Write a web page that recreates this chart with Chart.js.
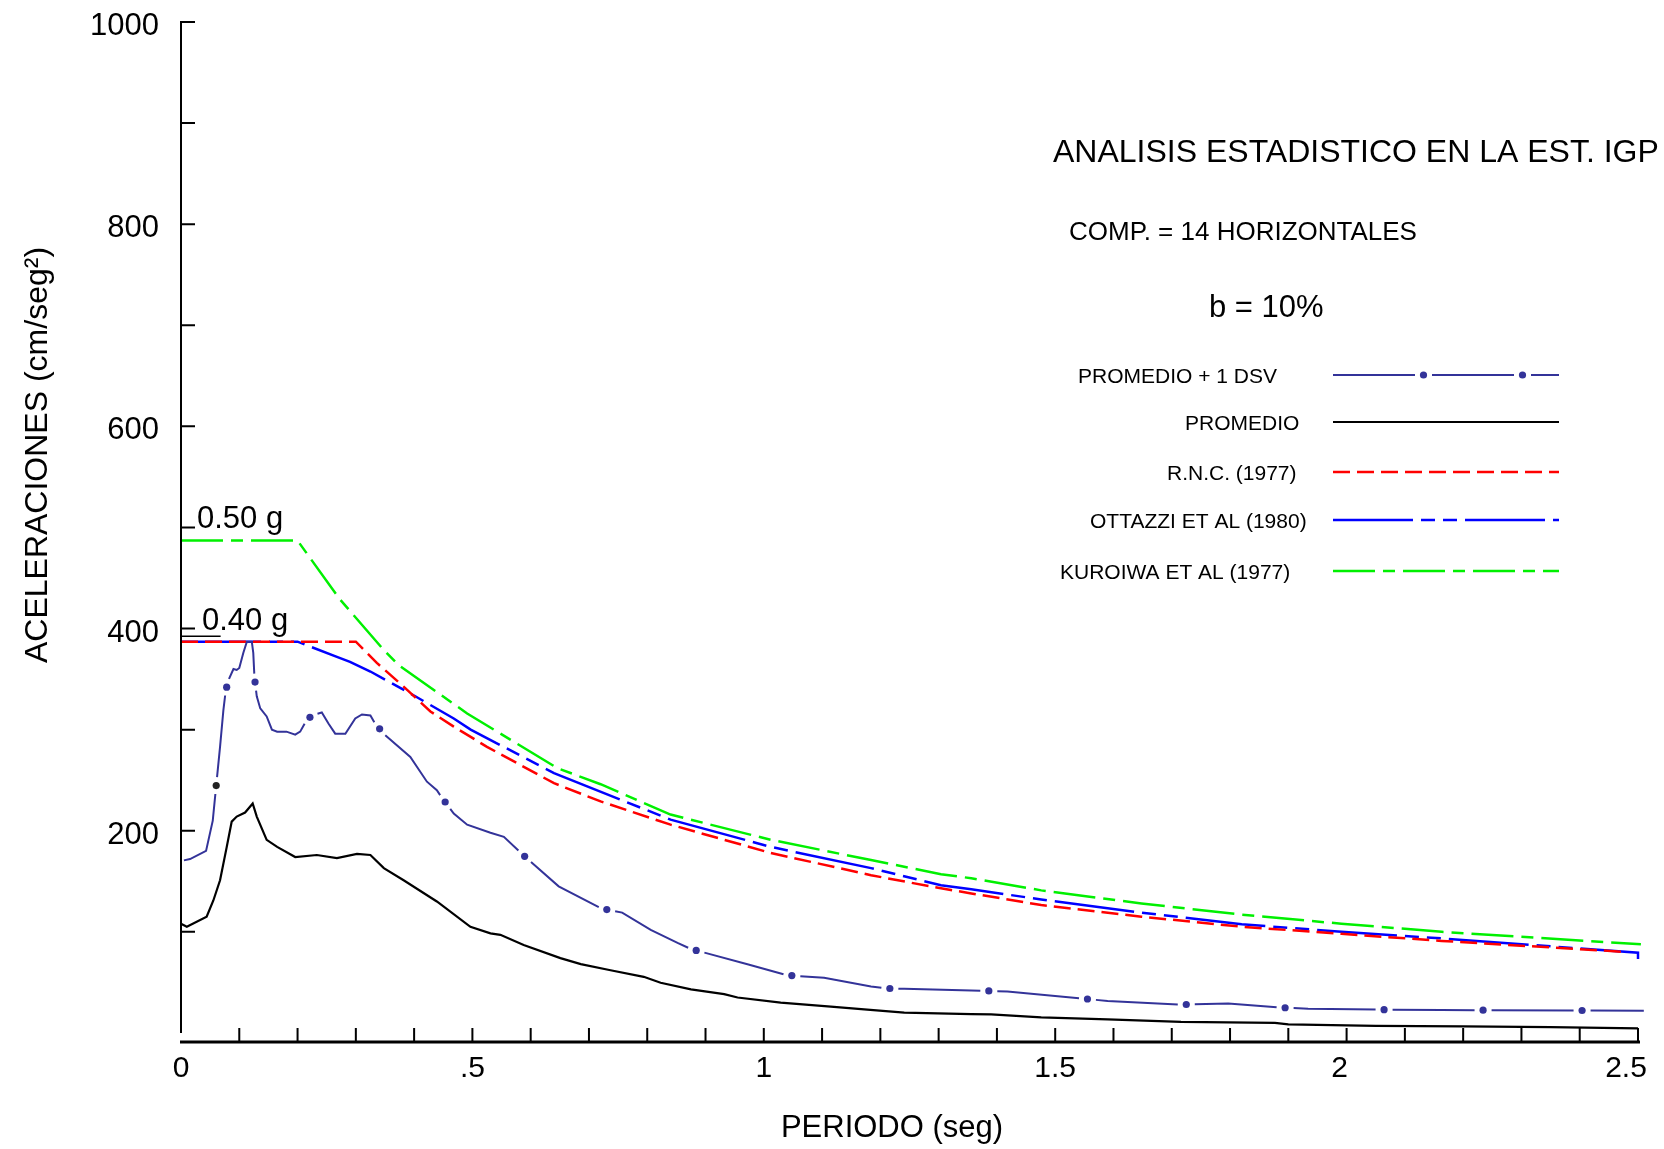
<!DOCTYPE html>
<html>
<head>
<meta charset="utf-8">
<title>Analisis estadistico - Est. IGP</title>
<script src="https://cdn.jsdelivr.net/npm/chart.js@4.4.1/dist/chart.umd.min.js"></script>
<style>
  html, body { margin: 0; padding: 0; background: #fff; }
  #wrap { width: 1664px; height: 1149px; }
</style>
</head>
<body>
<div id="wrap"><canvas id="espectro" width="1664" height="1149"></canvas></div>
<script>
'use strict';

// PROMEDIO + 1 DSV  (periodo en seg, aceleracion en cm/seg2)
let dsvPeriodos = [0, 0.0155, 0.043, 0.0545, 0.0613, 0.067, 0.0727, 0.0768, 0.083, 0.09, 0.0956, 0.1, 0.107, 0.113, 0.1215, 0.124, 0.126, 0.13, 0.136, 0.147, 0.156, 0.165, 0.181, 0.196, 0.2045, 0.216, 0.227, 0.2416, 0.253, 0.2646, 0.282, 0.299, 0.3105, 0.325, 0.332, 0.3476, 0.3935, 0.422, 0.439, 0.446, 0.468, 0.491, 0.531, 0.554, 0.585, 0.648, 0.7216, 0.757, 0.806, 0.852, 0.875, 0.972, 1.04, 1.1035, 1.184, 1.21, 1.241, 1.356, 1.418, 1.547, 1.59, 1.718, 1.797, 1.888, 1.934, 2.057, 2.163, 2.51];
let dsvValores = [170, 172, 180, 210, 250, 283, 319, 339, 351, 360, 359, 361, 376, 387, 387, 376, 352, 333, 321, 313, 300, 298, 298, 295, 298, 310, 314.5, 317, 306, 296, 296, 311, 315, 314, 307, 296, 273, 248.5, 240, 234, 217, 206, 198, 194, 177, 145, 123, 119, 102, 89, 83, 68, 57, 54.5, 46, 44, 43.6, 42, 41, 34, 31.5, 28, 29, 25, 24, 23, 22.6, 22];

// PROMEDIO
let promPeriodos = [0, 0.01, 0.044, 0.0555, 0.067, 0.0785, 0.087, 0.0956, 0.11, 0.123, 0.13, 0.147, 0.165, 0.196, 0.233, 0.2675, 0.302, 0.325, 0.348, 0.382, 0.439, 0.4966, 0.531, 0.548, 0.588, 0.651, 0.686, 0.737, 0.794, 0.823, 0.875, 0.932, 0.955, 1.029, 1.115, 1.167, 1.241, 1.356, 1.39, 1.476, 1.59, 1.716, 1.877, 1.9, 2.05, 2.2, 2.35, 2.5];
let promValores = [108, 105, 115, 131, 151, 184, 209, 214, 218, 227, 214, 191, 184, 174, 176, 173, 177, 176, 163, 151, 130, 105, 98.5, 97, 87, 74, 68, 62, 55.5, 49.6, 43, 38.4, 35, 30, 26, 23.6, 20, 18.6, 18.3, 15.3, 13.4, 11, 10, 8.4, 7, 6.5, 5.8, 4.5];

// R.N.C. (1977)
let rncPeriodos = [0, 0.3, 0.336, 0.382, 0.428, 0.468, 0.525, 0.64, 0.72, 0.84, 1.012, 1.184, 1.304, 1.356, 1.476, 1.648, 1.82, 1.991, 2.163, 2.482];
let rncValores = [387, 387, 366, 342.5, 318, 303, 283, 247, 229, 206, 178, 156, 143, 138, 126.5, 115, 105, 98, 91, 80];

// OTTAZZI ET AL (1980)
let ottPeriodos = [0, 0.2, 0.2675, 0.29, 0.325, 0.402, 0.468, 0.497, 0.64, 0.84, 1.012, 1.184, 1.304, 1.356, 1.476, 1.648, 1.82, 1.991, 2.163, 2.5, 2.5];
let ottValores = [387, 387, 372, 367, 357.5, 333, 311, 300, 257, 211, 184, 163, 146, 142, 132, 119, 107.5, 100, 93.5, 79.3, 73];

// KUROIWA ET AL (1977)
let kurPeriodos = [0, 0.2, 0.2725, 0.3476, 0.373, 0.491, 0.6455, 0.72, 0.84, 1.012, 1.184, 1.304, 1.356, 1.476, 1.648, 1.82, 1.991, 2.163, 2.505];
let kurValores = [487, 487, 429, 379, 364, 316, 262, 246, 216, 191, 171, 157, 153, 141, 128, 117, 108, 100, 87.6];

// marcas y etiquetas de los ejes
let xMarcas = [0.1, 0.2, 0.3, 0.4, 0.5, 0.6, 0.7, 0.8, 0.9, 1, 1.1, 1.2, 1.3, 1.4, 1.5, 1.6, 1.7, 1.8, 1.9, 2, 2.1, 2.2, 2.3, 2.4, 2.5];
let xEtiquetaValores = [0, 0.5, 1, 1.5, 2, 2.5];
let xEtiquetas = ['0', '.5', '1', '1.5', '2', '2.5'];
let yMarcas = [100, 200, 300, 400, 500, 600, 700, 800, 900, 1000];
let yEtiquetaValores = [200, 400, 600, 800, 1000];
let yEtiquetas = ['200', '400', '600', '800', '1000'];
let marcasG = ['0.50 g', '0.40 g'];
let marcasGValores = [500, 400];

let leyenda = ['PROMEDIO + 1 DSV', 'PROMEDIO', 'R.N.C. (1977)', 'OTTAZZI ET AL (1980)', 'KUROIWA ET AL (1977)'];

const FUENTE = '"Liberation Sans", Arial, Helvetica, sans-serif';
const AZUL_DSV = '#333399';
const VERDE = '#00f000';
const DASH_DSV = [82, 17];
const DASH_RNC = [17, 7];
const DASH_OTT = [80, 8, 14, 8, 14, 8];
const DASH_KUR = [42, 8, 12, 8];
const OFFSET_DSV = -3;

function pares(periodos, valores) {
    return periodos.map((t, i) => ({ x: t, y: valores[i] }));
}

// puntos en el centro de cada hueco del trazo de la curva + 1 DSV
function marcarPuntos(ctx, pts, dash, offset, radio, primeroOscuro) {
    const periodo = dash[0] + dash[1];
    let siguiente = dash[0] + dash[1] / 2 - offset;
    while (siguiente < 0) siguiente += periodo;
    let acum = 0;
    let n = 0;
    for (let i = 1; i < pts.length; i++) {
        const dx = pts[i].x - pts[i - 1].x;
        const dy = pts[i].y - pts[i - 1].y;
        const len = Math.hypot(dx, dy);
        while (len > 0 && siguiente <= acum + len) {
            const f = (siguiente - acum) / len;
            ctx.fillStyle = (n === 0 && primeroOscuro) ? '#222' : AZUL_DSV;
            ctx.beginPath();
            ctx.arc(pts[i - 1].x + dx * f, pts[i - 1].y + dy * f, radio, 0, Math.PI * 2);
            ctx.fill();
            siguiente += periodo;
            n++;
        }
        acum += len;
    }
}

const decoracion = {
    id: 'decoracion',
    afterDatasetsDraw(chart) {
        const ctx = chart.ctx;
        const xs = chart.scales.x;
        const ys = chart.scales.y;
        const x0 = xs.getPixelForValue(0);
        const yb = chart.chartArea.bottom;

        ctx.save();

        // puntos de la curva + 1 DSV
        const meta = chart.getDatasetMeta(0);
        marcarPuntos(ctx, meta.data.map(p => ({ x: p.x, y: p.y })), DASH_DSV, OFFSET_DSV, 3.6, true);

        ctx.strokeStyle = '#000';
        ctx.lineCap = 'butt';

        // eje vertical con marcas hacia adentro
        ctx.lineWidth = 2;
        ctx.beginPath();
        ctx.moveTo(x0, ys.getPixelForValue(1000) - 1);
        ctx.lineTo(x0, ys.getPixelForValue(0));
        yMarcas.forEach(v => {
            const y = ys.getPixelForValue(v);
            ctx.moveTo(x0, y);
            ctx.lineTo(x0 + 14, y);
        });
        ctx.stroke();

        // eje horizontal con marcas hacia arriba
        ctx.lineWidth = 3;
        ctx.beginPath();
        ctx.moveTo(x0 - 1, yb);
        ctx.lineTo(xs.getPixelForValue(2.5) + 2, yb);
        ctx.stroke();
        ctx.lineWidth = 2;
        ctx.beginPath();
        xMarcas.forEach(v => {
            const x = xs.getPixelForValue(v);
            ctx.moveTo(x, yb);
            ctx.lineTo(x, yb - 14);
        });
        ctx.stroke();

        // referencia 0.40 g
        ctx.lineWidth = 1.5;
        ctx.beginPath();
        const yg = ys.getPixelForValue(0.40 * 981);
        ctx.moveTo(x0, yg);
        ctx.lineTo(xs.getPixelForValue(0.068), yg);
        ctx.stroke();

        // etiquetas de los ejes
        ctx.fillStyle = '#000';
        ctx.textBaseline = 'alphabetic';
        ctx.font = '31px ' + FUENTE;
        ctx.textAlign = 'right';
        yEtiquetaValores.forEach((v, i) => {
            ctx.fillText(yEtiquetas[i], x0 - 22, ys.getPixelForValue(v) + 13);
        });
        ctx.font = '30px ' + FUENTE;
        ctx.textAlign = 'center';
        xEtiquetaValores.forEach((v, i) => {
            // las dos ultimas etiquetas quedan un poco corridas a la izquierda
            const corr = v >= 2.5 ? -12 : (v >= 2 ? -7 : 0);
            ctx.fillText(xEtiquetas[i], xs.getPixelForValue(v) + corr, 1077);
        });

        ctx.textAlign = 'left';
        ctx.font = '31px ' + FUENTE;
        ctx.fillText(marcasG[0], x0 + 16, ys.getPixelForValue(marcasGValores[0]) + 1);
        ctx.fillText(marcasG[1], x0 + 21, ys.getPixelForValue(marcasGValores[1]) + 1);

        // titulos
        ctx.font = '32px ' + FUENTE;
        ctx.fillText('ANALISIS ESTADISTICO EN LA EST. IGP', 1053, 162);
        ctx.font = '26px ' + FUENTE;
        ctx.fillText('COMP. = 14 HORIZONTALES', 1069, 240);
        ctx.font = '31px ' + FUENTE;
        ctx.fillText('b = 10%', 1209, 317);

        ctx.textAlign = 'center';
        ctx.font = '31px ' + FUENTE;
        ctx.fillText('PERIODO (seg)', 892, 1137);

        ctx.save();
        ctx.translate(47, 455);
        ctx.rotate(-Math.PI / 2);
        ctx.font = '32px ' + FUENTE;
        ctx.fillText('ACELERACIONES (cm/seg\u00B2)', 0, 0);
        ctx.restore();

        // leyenda
        const filas = [375, 422, 472, 520, 571];
        const xTexto = [1078, 1185, 1167, 1090, 1060];
        const estilos = [
            { color: AZUL_DSV, dash: DASH_DSV, w: 2 },
            { color: '#000', dash: [], w: 2 },
            { color: '#ff0000', dash: DASH_RNC, w: 2.5 },
            { color: '#0000ff', dash: DASH_OTT, w: 2.5 },
            { color: VERDE, dash: DASH_KUR, w: 2.5 }
        ];
        ctx.textAlign = 'left';
        ctx.font = '21px ' + FUENTE;
        for (let i = 0; i < leyenda.length; i++) {
            ctx.fillStyle = '#000';
            ctx.fillText(leyenda[i], xTexto[i], filas[i] + 7.5);
            ctx.strokeStyle = estilos[i].color;
            ctx.lineWidth = estilos[i].w;
            ctx.setLineDash(estilos[i].dash);
            ctx.lineDashOffset = 0;
            ctx.beginPath();
            ctx.moveTo(1333, filas[i]);
            ctx.lineTo(1559, filas[i]);
            ctx.stroke();
        }
        ctx.setLineDash([]);
        marcarPuntos(ctx, [{ x: 1333, y: filas[0] }, { x: 1559, y: filas[0] }], DASH_DSV, 0, 3.6, false);

        ctx.restore();
    }
};

const ctx = document.getElementById('espectro').getContext('2d');
const chart = new Chart(ctx, {
    type: 'line',
    data: {
        datasets: [{
            label: leyenda[0],
            data: pares(dsvPeriodos, dsvValores),
            borderColor: AZUL_DSV,
            borderWidth: 2,
            borderDash: DASH_DSV,
            borderDashOffset: OFFSET_DSV,
            clip: false
        }, {
            label: leyenda[1],
            data: pares(promPeriodos, promValores),
            borderColor: '#000',
            borderWidth: 2.2,
            clip: false
        }, {
            label: leyenda[2],
            data: pares(rncPeriodos, rncValores),
            borderColor: '#ff0000',
            borderWidth: 2.5,
            borderDash: DASH_RNC,
            clip: false
        }, {
            label: leyenda[3],
            data: pares(ottPeriodos, ottValores),
            borderColor: '#0000ff',
            borderWidth: 2.5,
            borderDash: DASH_OTT,
            clip: false
        }, {
            label: leyenda[4],
            data: pares(kurPeriodos, kurValores),
            borderColor: VERDE,
            borderWidth: 2.5,
            borderDash: DASH_KUR,
            clip: false
        }]
    },
    options: {
        responsive: false,
        animation: false,
        devicePixelRatio: 1,
        layout: { padding: { top: 22, right: 26, left: 181, bottom: 107 } },
        elements: {
            point: { radius: 0, hoverRadius: 0 },
            line: { tension: 0, fill: false }
        },
        plugins: {
            legend: { display: false },
            tooltip: { enabled: false }
        },
        scales: {
            x: { type: 'linear', display: false, min: 0, max: 2.5 },
            y: { type: 'linear', display: false, min: -9, max: 1000 }
        }
    },
    plugins: [decoracion]
});
</script>
</body>
</html>
